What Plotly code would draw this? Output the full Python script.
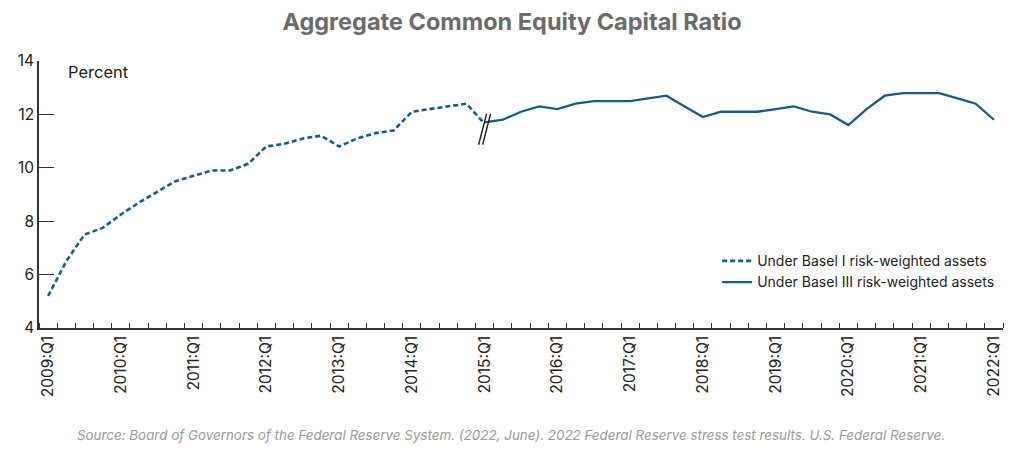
import plotly.graph_objs as go

# ---- data ----
quarters = [f"{y}:Q{q}" for y in range(2009, 2023) for q in range(1, 5)][:53]

basel_i = [5.2, 6.5, 7.5, 7.75,
           8.25, 8.7, 9.1, 9.5,
           9.7, 9.9, 9.9, 10.15,
           10.8, 10.9, 11.1, 11.2,
           10.8, 11.1, 11.3, 11.4,
           12.1, 12.2, 12.3, 12.4,
           11.65]

basel_iii = [11.7, 11.8, 12.1, 12.3,
             12.2, 12.4, 12.5, 12.5,
             12.5, 12.6, 12.7, 12.3,
             11.9, 12.1, 12.1, 12.1,
             12.2, 12.3, 12.1, 12.0,
             11.6, 12.2, 12.7, 12.8,
             12.8, 12.8, 12.6, 12.4,
             11.8]

LINE_COLOR = '#145c90'
AXIS_COLOR = '#333333'
FONT = 'Inter'

# page body has an 8px margin, so the figure is 8px smaller than the window
W, H = 1016, 445

idx = list(range(len(quarters)))
start_iii = len(basel_i) - 1  # 2015:Q1, where the series changes

fig = go.Figure()
fig.add_trace(go.Scatter(
    x=idx[:len(basel_i)], y=basel_i, mode='lines',
    line=dict(color=LINE_COLOR, width=2.6, dash='5px,3px'),
    name='Under Basel I risk-weighted assets'
))
fig.add_trace(go.Scatter(
    x=idx[start_iii:start_iii + len(basel_iii)], y=basel_iii, mode='lines',
    line=dict(color=LINE_COLOR, width=2.3),
    name='Under Basel III risk-weighted assets'
))

# break marker "//" anchored to the 2015:Q1 point
for dx in (0, 4):
    fig.add_shape(
        type='line', xref='x', yref='y',
        xsizemode='pixel', ysizemode='pixel',
        xanchor=start_iii, yanchor=basel_i[-1],
        x0=-6 + dx, y0=-21, x1=2 + dx, y1=10,
        line=dict(color='#222222', width=1.4)
    )

q1_ticks = [i for i, q in enumerate(quarters) if q.endswith('Q1')]

fig.update_layout(
    width=W, height=H,
    margin=dict(l=31, r=21, t=53, b=125),
    paper_bgcolor='white', plot_bgcolor='white',
    font=dict(family=FONT, color=AXIS_COLOR),
    title=dict(
        text='<b>Aggregate Common Equity Capital Ratio</b>',
        x=0.5 - 4 / W, xanchor='center', y=1 - 13.5 / H, yanchor='middle',
        font=dict(family=FONT, size=23.5, color='#6b6b6b')
    ),
    xaxis=dict(
        range=[-0.5, len(quarters) - 0.5], automargin=False,
        tickmode='array', tickvals=q1_ticks,
        ticktext=[quarters[i] for i in q1_ticks],
        tickangle=-90, ticks='', showgrid=False, zeroline=False,
        showline=True, linecolor=AXIS_COLOR, linewidth=1.5,
        tickfont=dict(size=15.5, color='#222222'),
        minor=dict(tickmode='array', tickvals=[i - 0.5 for i in range(len(quarters) + 1)],
                   ticks='inside', ticklen=5, tickcolor=AXIS_COLOR, tickwidth=1,
                   showgrid=False)
    ),
    yaxis=dict(
        range=[4, 14], tickvals=[4, 6, 8, 10, 12, 14], automargin=False,
        ticks='inside', ticklen=15, tickcolor=AXIS_COLOR, tickwidth=1.2,
        showgrid=False, zeroline=False,
        showline=True, linecolor=AXIS_COLOR, linewidth=1.5,
        tickfont=dict(size=15.5, color='#222222')
    ),
    legend=dict(
        x=0.7035, y=0.31, xanchor='left', yanchor='top',
        bgcolor='rgba(0,0,0,0)', font=dict(size=14, color='#222222'),
        tracegroupgap=0
    ),
    annotations=[
        dict(text='Percent', xref='paper', yref='paper', x=0.028, y=0.96,
             xanchor='left', yanchor='middle', showarrow=False,
             font=dict(size=16.5, color='#222222')),
        dict(text='<i>Source: Board of Governors of the Federal Reserve System. (2022, June). '
                  '2022 Federal Reserve stress test results. U.S. Federal Reserve.</i>',
             xref='paper', yref='paper', x=0.49, y=-0.40,
             xanchor='center', yanchor='middle', showarrow=False,
             font=dict(size=13.4, color='#9a9a9a'))
    ]
)

fig.write_html("out.html")
